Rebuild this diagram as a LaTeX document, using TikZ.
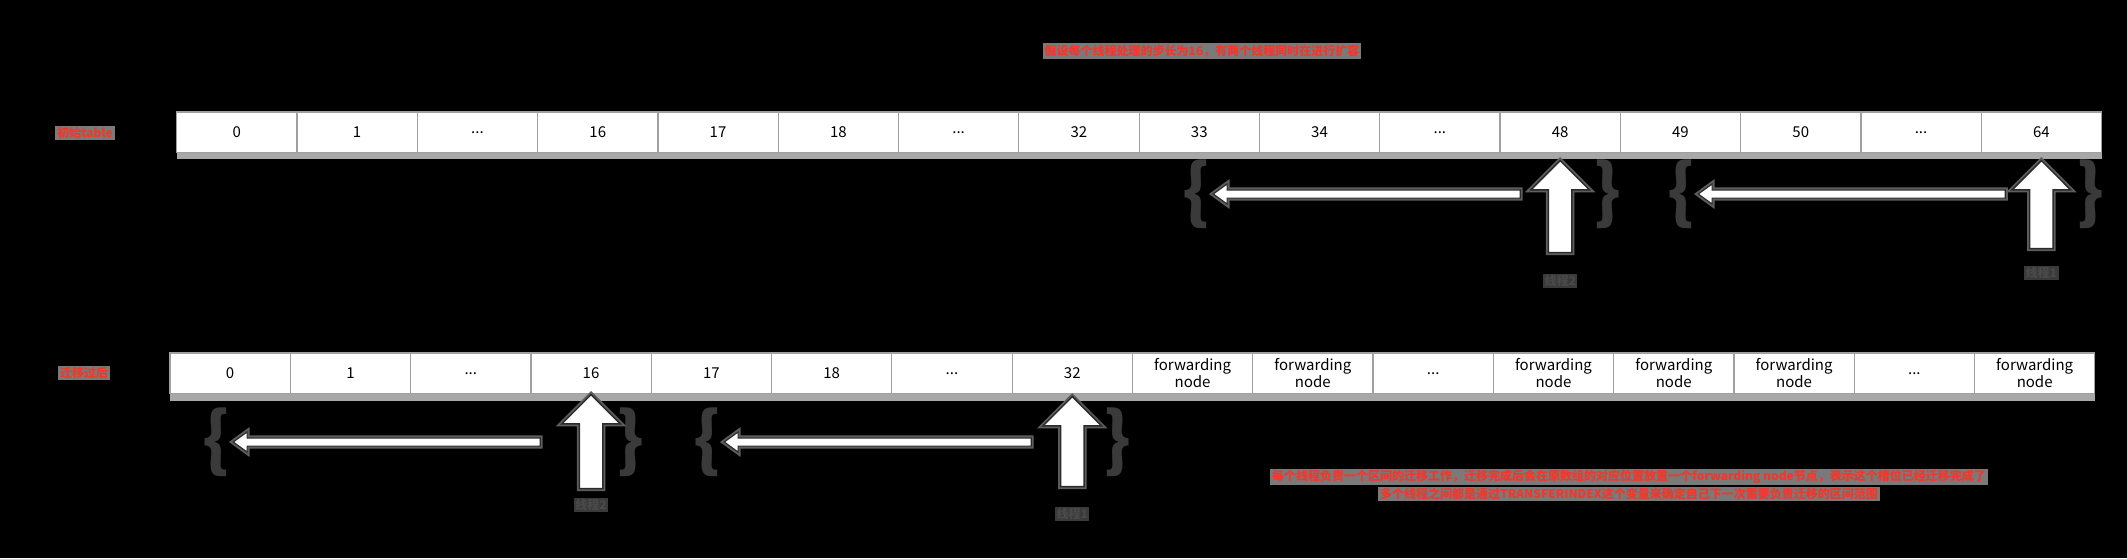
\documentclass[tikz,border=0pt]{standalone}
\usepackage{fontspec}
\setmainfont{Noto Sans CJK SC}
\usetikzlibrary{positioning,shapes.arrows}
\definecolor{tagRed}{HTML}{F4362A}
\definecolor{tagGray}{HTML}{7A7A7A}
\definecolor{cellLine}{HTML}{A0A0A0}
\definecolor{cellShade}{HTML}{A8A8A8}
\definecolor{braceGray}{HTML}{3A3A3A}
\definecolor{outlineDark}{HTML}{2B2B2B}
\definecolor{glowGray}{HTML}{5E5E5E}
\definecolor{whoGray}{HTML}{4A4A4A}
\newcommand{\skipdots}{...}
\newcommand{\fwd}{forwarding\\node}

\begin{document}
\begin{tikzpicture}[x=1pt, y=-1pt,
  slot/.style={draw=cellLine, line width=1.2pt, fill=white, minimum width=120.3pt,
    minimum height=40.5pt, inner sep=0pt, outer sep=0pt, anchor=north west,
    font=\fontsize{15}{16.5}\selectfont, align=center},
  tag/.style={fill=tagGray, text=tagRed, inner xsep=2pt, inner ysep=1.5pt,
    font=\fontsize{12}{14}\selectfont\bfseries},
  curly/.style={text=braceGray, inner sep=0pt, font=\fontsize{70}{70}\selectfont\bfseries},
  bigArrow/.style={single arrow, rotate=90, draw=outlineDark, line width=1.5pt, fill=white,
    inner xsep=0pt, inner ysep=11pt, single arrow head extend=17.5pt, anchor=tip,
    preaction={draw=glowGray, line width=5pt}},
  backArrow/.style={single arrow, rotate=180, draw=outlineDark, line width=1.2pt, fill=white,
    inner xsep=0pt, inner ysep=3.5pt, single arrow head extend=6pt,
    single arrow tip angle=72, anchor=tip, minimum height=307pt,
    preaction={draw=glowGray, line width=5pt}},
  who/.style={text=whoGray, fill=braceGray, inner sep=1.5pt, font=\fontsize{12}{14}\selectfont\bfseries}]

  \fill[black] (0,0) rectangle (2127,558);

  % title and row tags
  \node[tag] (title) at (1202,51) {假设每个线程处理的步长为16，有两个线程同时在进行扩容};
  \node[tag] (topTag) at (85,133) {初始table};
  \node[tag] (lowTag) at (84,373) {迁移过后};

  % table before
  \foreach \t [count=\i from 0] in {0,1,\skipdots,16,17,18,\skipdots,32,33,34,\skipdots,48,49,50,\skipdots,64}
    \node[slot] (t\i) at (176.7+\i*120.3,112) {\t};
  \fill[cellShade] (t0.south west) rectangle ([yshift=-6pt]t15.south east);

  % table while moving
  \foreach \t [count=\i from 0] in {0,1,\skipdots,16,17,18,\skipdots,32,\fwd,\fwd,\skipdots,\fwd,\fwd,\fwd,\skipdots,\fwd}
    \node[slot] (b\i) at (170+\i*120.3,353) {\t};
  \fill[cellShade] (b0.south west) rectangle ([yshift=-7pt]b15.south east);

  % thread ranges, upper row
  \node[curly] (openA) at (1196,194) {\{};
  \node[curly] (shutA) at (1607,194) {\}};
  \node[backArrow] (backA) at ([xshift=2pt]openA.east) {};
  \node[bigArrow, minimum height=92pt] (upA) at ([yshift=-7pt]t11.south) {};
  \node[who, below=20pt of upA.tail] (whoA) {线程2};

  \node[curly] (openB) at (1681,194) {\{};
  \node[curly] (shutB) at (2090,194) {\}};
  \node[backArrow] (backB) at ([xshift=2pt]openB.east) {};
  \node[bigArrow, minimum height=88pt] (upB) at ([yshift=-7pt]t15.south) {};
  \node[who, below=16pt of upB.tail] (whoB) {线程1};

  % thread ranges, lower row
  \node[curly] (openC) at (216,442) {\{};
  \node[curly] (shutC) at (630,442) {\}};
  \node[backArrow] (backC) at ([xshift=2pt]openC.east) {};
  \node[bigArrow, minimum height=94pt] (upC) at (b3.south) {};
  \node[who, below=8pt of upC.tail] (whoC) {线程2};

  \node[curly] (openD) at (707,442) {\{};
  \node[curly] (shutD) at (1117,442) {\}};
  \node[backArrow] (backD) at ([xshift=2pt]openD.east) {};
  \node[bigArrow, minimum height=90pt] (upD) at ([yshift=-2pt]b7.south) {};
  \node[who, below=19pt of upD.tail] (whoD) {线程1};

  % note
  \node[tag] (noteA) at (1629,477) {每个线程负责一个区间的迁移工作，迁移完成后会在原数组的对应位置放置一个forwarding node节点，表示这个槽位已经迁移完成了};
  \node[tag, below=1pt of noteA] (noteB) {多个线程之间都是通过TRANSFERINDEX这个变量来确定自己下一次需要负责迁移的区间范围};
\end{tikzpicture}
\end{document}
